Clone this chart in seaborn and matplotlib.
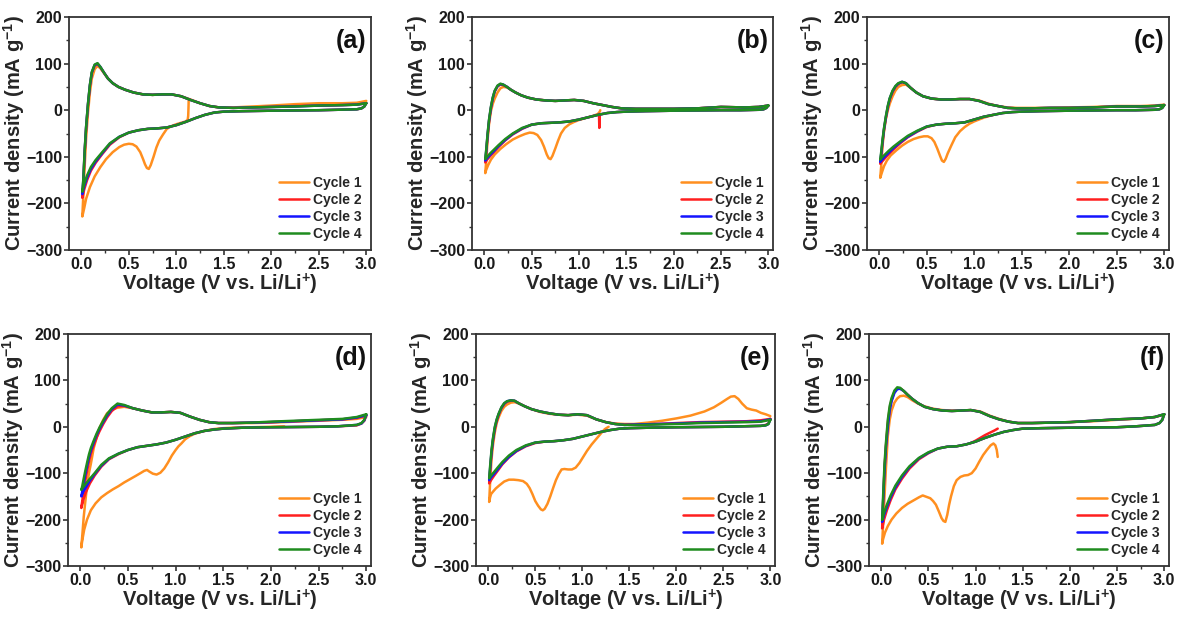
import matplotlib
matplotlib.use("Agg")
import matplotlib.pyplot as plt
import seaborn as sns
import pandas as pd
from matplotlib.ticker import MultipleLocator

# ---------------- shared voltage grids (V vs Li/Li+) ----------------
CAT_V = [3.00, 2.98, 2.95, 2.90, 2.70, 2.50, 2.00, 1.70, 1.50,
         1.40, 1.30, 1.20, 1.10, 1.00, 0.90, 0.80, 0.70, 0.60,
         0.50, 0.40, 0.30, 0.22, 0.15, 0.10, 0.06, 0.03, 0.01]
AN_V = [0.01, 0.02, 0.035, 0.05, 0.07, 0.09, 0.11, 0.14, 0.17, 0.20, 0.24,
        0.28, 0.33, 0.39, 0.46, 0.55, 0.65, 0.75, 0.85, 0.95, 1.05, 1.15,
        1.25, 1.35, 1.45, 1.60, 1.80, 2.00, 2.25, 2.50, 2.75, 2.90, 3.00]
AN1_V = AN_V[1:]

CYCLES = ["Cycle 1", "Cycle 2", "Cycle 3", "Cycle 4"]
COLORS = ["#FF8F1F", "#FF1F1F", "#1414FF", "#1F8C1F"]
PANELS = ["(a)", "(b)", "(c)", "(d)", "(e)", "(f)"]

# ---------------- panel (a) ----------------
a_c1_cat_v = [1.13, 1.128, 1.125, 1.12, 1.10, 1.05, 1.00, 0.95, 0.90, 0.86,
              0.82, 0.79, 0.76, 0.73, 0.71, 0.69, 0.67, 0.65, 0.62, 0.58,
              0.54, 0.50, 0.45, 0.40, 0.33, 0.26, 0.20, 0.14, 0.09, 0.05,
              0.03, 0.01]
a_c1_cat_i = [20, 5, -12, -20, -24, -27, -30, -34, -40, -52,
              -65, -80, -100, -118, -126, -124, -116, -105, -90, -78,
              -73, -72, -74, -79, -90, -105, -122, -142, -165, -190,
              -210, -228]
a_c1_an_i = [-185, -120, -60, -5, 38, 68, 88, 95, 90, 79,
             68, 58, 50, 44, 38, 34, 33, 34, 34, 30, 23,
             15, 9, 6, 6, 8, 10, 13, 15, 15, 16, 20]
a_cat_c2 = [15, 8, 4, 2, 1, 0, -1, -2, -3,
            -5, -10, -17, -25, -32, -37, -39, -40, -43,
            -48, -58, -74, -94, -113, -130, -150, -170, -188]
a_cat_c3 = [15, 8, 4, 2, 1, 0, -1, -2, -3,
            -5, -10, -17, -25, -32, -37, -39, -40, -43,
            -48, -57, -72, -92, -110, -126, -145, -163, -180]
a_cat_c4 = [15, 8, 4, 2, 1, 0, -1, -2, -3,
            -5, -10, -17, -25, -32, -37, -39, -40, -43,
            -48, -57, -71, -90, -107, -122, -140, -158, -175]
a_an_c2 = [-188, -158, -90, -38, 12, 52, 80, 96, 99, 92, 80,
           68, 58, 50, 44, 38, 34, 33, 34, 34, 30, 22,
           15, 9, 6, 5, 6, 7, 9, 10, 11, 12, 15]
a_an_c3 = [-180, -152, -87, -36, 14, 54, 81, 97, 100, 93, 80,
           68, 58, 50, 44, 38, 34, 33, 34, 34, 30, 22,
           15, 9, 6, 5, 6, 7, 8, 10, 11, 12, 15]
a_an_c4 = [-175, -150, -85, -35, 15, 55, 82, 98, 101, 93, 80,
           68, 58, 50, 44, 38, 34, 33, 34, 34, 30, 22,
           15, 9, 6, 5, 6, 7, 8, 10, 11, 12, 15]

# ---------------- panel (b) ----------------
b_c1_cat_v = [1.225, 1.22, 1.20, 1.15, 1.10, 1.05, 1.00, 0.95, 0.90, 0.85,
              0.81, 0.78, 0.75, 0.72, 0.70, 0.68, 0.66, 0.63, 0.60, 0.56,
              0.52, 0.48, 0.43, 0.37, 0.30, 0.23, 0.17, 0.11, 0.07, 0.04,
              0.02, 0.01]
b_c1_cat_i = [0, -3, -8, -12, -15, -18, -21, -25, -30, -38,
              -50, -65, -82, -98, -105, -103, -95, -78, -64, -53,
              -49, -48, -51, -56, -63, -73, -83, -95, -106, -118,
              -128, -135]
b_c1_an_i = [-110, -63, -30, -2, 14, 25, 38, 47, 50, 49,
             44, 38, 32, 27, 23, 21, 20, 21, 22, 20, 15,
             11, 7, 4, 3, 3, 3, 4, 7, 6, 7, 10]
b_cat_c2 = [10, 5, 2, 1, 0, 0, -1, -2, -3,
            -4, -6, -10, -15, -20, -24, -26, -27, -28,
            -31, -40, -52, -65, -79, -90, -99, -106, -112]
b_cat_c3 = [10, 5, 2, 1, 0, 0, -1, -2, -3,
            -4, -6, -10, -15, -20, -24, -26, -27, -28,
            -31, -39, -51, -64, -77, -88, -96, -103, -108]
b_cat_c4 = [10, 5, 2, 1, 0, 0, -1, -2, -3,
            -4, -6, -10, -15, -20, -24, -26, -27, -28,
            -31, -38, -50, -62, -75, -85, -93, -100, -105]
b_an_c2 = [-112, -92, -55, -24, 4, 25, 40, 51, 55, 54, 50,
           44, 38, 32, 27, 23, 21, 20, 21, 22, 20, 15,
           11, 7, 4, 3, 3, 3, 4, 7, 6, 7, 10]
b_an_c3 = [-108, -88, -52, -22, 6, 27, 41, 52, 56, 55, 50,
           44, 38, 32, 27, 23, 21, 20, 21, 22, 20, 15,
           11, 7, 4, 3, 3, 3, 4, 7, 6, 7, 10]
b_an_c4 = [-105, -85, -50, -20, 8, 28, 42, 53, 57, 55, 50,
           44, 38, 32, 27, 23, 21, 20, 21, 22, 20, 15,
           11, 7, 4, 3, 3, 3, 4, 7, 6, 7, 10]
b_c2_spike_v = [1.218, 1.215, 1.212]
b_c2_spike_i = [-8, -38, -11]

# ---------------- panel (c) ----------------
c_c1_cat_v = [1.20, 1.10, 1.00, 0.95, 0.90, 0.85, 0.80, 0.76, 0.72, 0.70,
              0.68, 0.66, 0.64, 0.61, 0.58, 0.55, 0.51, 0.47, 0.42, 0.36,
              0.30, 0.24, 0.18, 0.12, 0.08, 0.05, 0.03, 0.01]
c_c1_cat_i = [-10, -16, -24, -29, -36, -45, -58, -75, -93, -104,
              -111, -108, -98, -82, -68, -60, -56, -56, -58, -62,
              -68, -76, -86, -97, -108, -120, -132, -145]
c_c1_an_i = [-120, -75, -45, -18, 0, 14, 30, 42, 50, 54,
             55, 48, 38, 30, 25, 23, 23, 24, 24, 21, 14,
             9, 6, 5, 5, 5, 6, 7, 9, 9, 10, 12]
c_cat_c2 = [11, 5, 2, 1, 0, 0, -1, -2, -3,
            -4, -6, -10, -14, -20, -26, -28, -29, -31,
            -36, -46, -58, -71, -84, -94, -103, -110, -115]
c_cat_c3 = [11, 5, 2, 1, 0, 0, -1, -2, -3,
            -4, -6, -10, -14, -20, -26, -28, -29, -31,
            -35, -45, -57, -69, -81, -91, -99, -106, -111]
c_cat_c4 = [11, 5, 2, 1, 0, 0, -1, -2, -3,
            -4, -6, -10, -14, -20, -26, -28, -29, -31,
            -35, -44, -55, -67, -78, -87, -95, -101, -106]
c_an_c2 = [-115, -98, -68, -42, -16, 6, 23, 39, 50, 56, 60,
           58, 48, 38, 30, 25, 23, 23, 24, 24, 20, 13,
           9, 5, 4, 4, 5, 5, 6, 8, 8, 9, 11]
c_an_c3 = [-111, -94, -65, -40, -14, 8, 25, 41, 51, 57, 61,
           58, 48, 38, 30, 25, 23, 23, 24, 24, 20, 13,
           9, 5, 4, 4, 5, 5, 6, 8, 8, 9, 11]
c_an_c4 = [-106, -90, -62, -38, -12, 10, 26, 42, 52, 58, 61,
           58, 48, 38, 30, 25, 23, 23, 24, 24, 20, 13,
           9, 5, 4, 4, 5, 5, 6, 8, 8, 9, 11]

# ---------------- panel (d) ----------------
d_c1_cat_v = [2.14, 2.00, 1.80, 1.60, 1.50, 1.40, 1.30, 1.20, 1.15, 1.10,
              1.06, 1.03, 1.00, 0.96, 0.92, 0.88, 0.84, 0.80, 0.76, 0.72,
              0.70, 0.67, 0.63, 0.58, 0.52, 0.46, 0.40, 0.34, 0.28, 0.22,
              0.16, 0.11, 0.07, 0.04, 0.02, 0.01]
d_c1_cat_i = [1, 0, -1, -2, -3, -5, -9, -15, -20, -27,
              -36, -42, -50, -62, -77, -90, -99, -103, -101, -96,
              -93, -95, -100, -106, -113, -120, -128, -135, -143, -152,
              -165, -180, -200, -222, -245, -260]
d_c1_an_i = [-235, -195, -165, -128, -100, -80, -46, -24, -3, 15,
             29, 37, 41, 43, 40, 35, 31, 31, 32, 30, 22,
             15, 10, 8, 8, 8, 9, 11, 13, 15, 17, 21]
d_cat_c2 = [24, 13, 7, 3, 1, 0, -1, -2, -4,
            -6, -9, -14, -21, -28, -34, -38, -41, -44,
            -50, -59, -70, -86, -105, -122, -140, -158, -175]
d_cat_c3 = [25, 14, 7, 4, 1, 0, -1, -2, -4,
            -6, -9, -14, -21, -28, -34, -38, -41, -44,
            -50, -58, -69, -84, -102, -116, -130, -140, -150]
d_cat_c4 = [27, 15, 8, 4, 1, 0, -1, -2, -4,
            -6, -9, -14, -21, -28, -34, -38, -41, -44,
            -50, -58, -68, -82, -100, -112, -122, -130, -136]
d_an_c2 = [-175, -160, -138, -118, -96, -75, -58, -40, -24, -10, 6,
           20, 34, 44, 45, 40, 35, 31, 31, 32, 30, 22,
           15, 10, 8, 8, 9, 10, 12, 14, 16, 19, 24]
d_an_c3 = [-150, -140, -122, -105, -85, -66, -51, -34, -18, -5, 10,
           24, 38, 48, 46, 40, 35, 31, 31, 32, 30, 22,
           15, 10, 8, 8, 9, 10, 12, 14, 16, 20, 25]
d_an_c4 = [-136, -128, -112, -97, -78, -60, -46, -30, -15, -2, 13,
           27, 40, 50, 47, 40, 35, 31, 31, 32, 30, 22,
           15, 10, 8, 8, 9, 11, 13, 15, 17, 21, 27]

# ---------------- panel (e) ----------------
e_c1_cat_v = [1.28, 1.24, 1.20, 1.15, 1.10, 1.05, 1.01, 0.97, 0.93, 0.89,
              0.85, 0.81, 0.78, 0.75, 0.72, 0.69, 0.66, 0.63, 0.60, 0.58,
              0.56, 0.53, 0.50, 0.47, 0.44, 0.41, 0.37, 0.32, 0.27, 0.22,
              0.17, 0.12, 0.08, 0.05, 0.03, 0.02, 0.01]
e_c1_cat_i = [0, -5, -14, -26, -38, -52, -65, -78, -88, -92,
              -92, -91, -92, -102, -115, -132, -150, -166, -177, -180,
              -178, -170, -160, -145, -132, -123, -117, -115, -114, -114,
              -118, -126, -133, -140, -145, -152, -162]
e_c1_an_v = [0.02, 0.035, 0.05, 0.07, 0.09, 0.11, 0.14, 0.17, 0.20, 0.24,
             0.28, 0.33, 0.39, 0.46, 0.55, 0.65, 0.75, 0.85, 0.95, 1.05,
             1.15, 1.25, 1.35, 1.45, 1.55, 1.70, 1.85, 2.00, 2.15, 2.30,
             2.40, 2.48, 2.54, 2.58, 2.62, 2.66, 2.70, 2.75, 2.80, 2.85,
             2.90, 2.95, 3.00]
e_c1_an_i = [-120, -70, -40, -12, 8, 20, 34, 43, 48, 52,
             53, 50, 44, 38, 32, 28, 26, 25, 26, 24,
             16, 10, 7, 6, 6, 9, 13, 18, 24, 33,
             42, 52, 60, 65, 66, 60, 50, 40, 37, 35,
             30, 27, 23]
e_cat_c2 = [17, 7, 4, 2, 1, 0, -1, -2, -3,
            -4, -7, -11, -16, -21, -26, -29, -31, -32,
            -35, -42, -53, -66, -81, -95, -106, -115, -122]
e_cat_c3 = [16, 6, 3, 2, 1, 0, -1, -2, -3,
            -4, -7, -11, -16, -21, -26, -29, -31, -32,
            -34, -41, -52, -65, -79, -92, -102, -109, -115]
e_cat_c4 = [15, 6, 3, 2, 1, 0, -1, -2, -3,
            -4, -7, -11, -16, -21, -26, -29, -31, -32,
            -34, -40, -50, -62, -76, -88, -98, -105, -111]
e_an_c2 = [-122, -96, -58, -31, -5, 12, 25, 40, 49, 54, 56,
           56, 50, 44, 38, 33, 29, 26, 25, 27, 25, 16,
           10, 6, 5, 5, 6, 8, 10, 11, 12, 14, 17]
e_an_c3 = [-115, -90, -54, -28, -2, 15, 27, 41, 50, 55, 57,
           56, 50, 44, 38, 33, 29, 26, 25, 27, 25, 16,
           10, 6, 4, 5, 6, 7, 9, 10, 11, 12, 16]
e_an_c4 = [-111, -85, -50, -25, 0, 16, 28, 42, 51, 55, 57,
           56, 50, 44, 38, 33, 29, 26, 25, 27, 25, 16,
           10, 6, 4, 4, 5, 6, 8, 9, 10, 11, 15]

# ---------------- panel (f) ----------------
f_c1_cat_v = [1.235, 1.225, 1.21, 1.19, 1.16, 1.12, 1.08, 1.04, 1.00, 0.96,
              0.92, 0.88, 0.84, 0.80, 0.77, 0.74, 0.72, 0.70, 0.68, 0.66,
              0.64, 0.61, 0.58, 0.55, 0.52, 0.48, 0.44, 0.40, 0.34, 0.28,
              0.22, 0.16, 0.11, 0.07, 0.04, 0.02, 0.01]
f_c1_cat_i = [-65, -50, -40, -36, -40, -50, -61, -75, -90, -100,
              -104, -105, -108, -115, -128, -150, -168, -190, -205, -203,
              -197, -182, -168, -160, -154, -151, -148, -152, -159, -166,
              -175, -187, -200, -214, -228, -242, -252]
f_c1_an_i = [-210, -150, -90, -20, 15, 35, 52, 61, 66, 67,
             64, 57, 50, 44, 39, 36, 35, 35, 36, 33, 24,
             17, 11, 8, 8, 9, 10, 12, 15, 18, 21, 26]
f_cat_c2 = [27, 15, 8, 4, 1, -1, -2, -3, -4,
            -7, -11, -17, -24, -32, -38, -42, -43, -47,
            -57, -70, -90, -112, -135, -158, -180, -200, -219]
f_cat_c3 = [27, 15, 8, 4, 1, -1, -2, -3, -4,
            -7, -11, -17, -24, -32, -38, -42, -43, -47,
            -56, -68, -87, -108, -131, -152, -173, -190, -205]
f_cat_c4 = [27, 15, 8, 4, 1, -1, -2, -3, -4,
            -7, -11, -17, -24, -32, -38, -42, -43, -47,
            -55, -67, -85, -105, -127, -148, -168, -185, -201]
f_an_c2 = [-219, -165, -90, -42, 8, 40, 58, 75, 83, 83, 77,
           69, 60, 51, 43, 38, 35, 34, 35, 36, 32, 23,
           16, 11, 8, 8, 9, 10, 13, 16, 18, 21, 27]
f_an_c3 = [-205, -160, -95, -45, 0, 35, 55, 73, 81, 82, 77,
           69, 60, 51, 43, 38, 35, 34, 35, 36, 32, 23,
           16, 11, 8, 8, 9, 10, 13, 16, 18, 21, 27]
f_an_c4 = [-201, -150, -80, -35, 15, 45, 62, 78, 85, 84, 77,
           69, 60, 51, 43, 38, 35, 34, 35, 36, 32, 23,
           16, 11, 8, 8, 9, 10, 13, 16, 18, 21, 27]
f_c2_tail_v = [1.235, 1.20, 1.15, 1.10, 1.05, 1.00, 0.95]
f_c2_tail_i = [-4, -8, -13, -18, -24, -30, -35]

# ---------------- style ----------------
sns.set_theme(style="ticks")
plt.rcParams.update({
    "font.family": ["Liberation Sans", "DejaVu Sans"],
    "font.weight": "bold",
    "axes.labelweight": "bold",
    "mathtext.fontset": "custom",
    "mathtext.rm": "Liberation Sans:bold",
    "mathtext.bf": "Liberation Sans:bold",
    "mathtext.it": "Liberation Sans:bold:italic",
    "axes.edgecolor": "#333333",
    "axes.linewidth": 1.3,
    "xtick.direction": "out",
    "ytick.direction": "out",
    "xtick.color": "#333333",
    "ytick.color": "#333333",
    "xtick.labelcolor": "#1a1a1a",
    "ytick.labelcolor": "#1a1a1a",
})

fig = plt.figure(figsize=(11.8, 6.17), dpi=100)
positions = [
    [0.0585, 0.5948, 0.2559, 0.3776],
    [0.4000, 0.5948, 0.2551, 0.3776],
    [0.7347, 0.5948, 0.2559, 0.3776],
    [0.0576, 0.0827, 0.2568, 0.3760],
    [0.4034, 0.0827, 0.2534, 0.3760],
    [0.7364, 0.0827, 0.2542, 0.3760],
]

panel_data = {
    "(a)": (a_c1_cat_v, a_c1_cat_i, AN1_V, a_c1_an_i,
            [a_cat_c2, a_cat_c3, a_cat_c4], [a_an_c2, a_an_c3, a_an_c4]),
    "(b)": (b_c1_cat_v, b_c1_cat_i, AN1_V, b_c1_an_i,
            [b_cat_c2, b_cat_c3, b_cat_c4], [b_an_c2, b_an_c3, b_an_c4]),
    "(c)": (c_c1_cat_v, c_c1_cat_i, AN1_V, c_c1_an_i,
            [c_cat_c2, c_cat_c3, c_cat_c4], [c_an_c2, c_an_c3, c_an_c4]),
    "(d)": (d_c1_cat_v, d_c1_cat_i, AN1_V, d_c1_an_i,
            [d_cat_c2, d_cat_c3, d_cat_c4], [d_an_c2, d_an_c3, d_an_c4]),
    "(e)": (e_c1_cat_v, e_c1_cat_i, e_c1_an_v, e_c1_an_i,
            [e_cat_c2, e_cat_c3, e_cat_c4], [e_an_c2, e_an_c3, e_an_c4]),
    "(f)": (f_c1_cat_v, f_c1_cat_i, AN1_V, f_c1_an_i,
            [f_cat_c2, f_cat_c3, f_cat_c4], [f_an_c2, f_an_c3, f_an_c4]),
}
extras = {"(b)": (b_c2_spike_v, b_c2_spike_i), "(f)": (f_c2_tail_v, f_c2_tail_i)}

LW = 1.8


def draw(ax, v, i, color, label=None):
    df = pd.DataFrame({"V": v, "I": i})
    sns.lineplot(data=df, x="V", y="I", sort=False, estimator=None,
                 color=color, lw=LW, label=label, ax=ax, legend=False)


for name, pos in zip(PANELS, positions):
    ax = fig.add_axes(pos)
    c1v, c1i, c1av, c1ai, cats, ans = panel_data[name]
    draw(ax, list(c1v) + list(c1av), list(c1i) + list(c1ai), COLORS[0], CYCLES[0])
    for k in range(3):
        draw(ax, CAT_V + AN_V[1:], cats[k] + ans[k][1:], COLORS[k + 1], CYCLES[k + 1])
        if k == 0 and name in extras:
            ev, ei = extras[name]
            draw(ax, ev, ei, COLORS[1])
    ax.set_xlim(-0.13, 3.05)
    ax.set_ylim(-300, 200)
    ax.xaxis.set_major_locator(MultipleLocator(0.5))
    ax.xaxis.set_minor_locator(MultipleLocator(0.25))
    ax.yaxis.set_major_locator(MultipleLocator(100))
    ax.yaxis.set_minor_locator(MultipleLocator(50))
    ax.set_xticks([0, 0.5, 1.0, 1.5, 2.0, 2.5, 3.0])
    ax.set_xticklabels(["0.0", "0.5", "1.0", "1.5", "2.0", "2.5", "3.0"])
    ax.tick_params(axis="both", which="major", length=3.5, width=1.2,
                   labelsize=11.5, pad=1.5)
    ax.tick_params(axis="both", which="minor", length=2.5, width=1.0)
    for lab in ax.get_xticklabels() + ax.get_yticklabels():
        lab.set_fontweight("bold")
    for s in ax.spines.values():
        s.set_visible(True)
        s.set_linewidth(1.3)
    ax.set_xlabel("Voltage (V vs. Li/Li$^{+}$)", fontsize=14.5,
                  fontweight="bold", labelpad=0)
    ax.set_ylabel("Current density (mA g$^{-1}$)", fontsize=14.5,
                  fontweight="bold", labelpad=-1)
    ax.text(0.985, 0.95, name, transform=ax.transAxes, ha="right", va="top",
            fontsize=18, fontweight="bold", color="#111111")
    handles, labels = ax.get_legend_handles_labels()
    ax.legend(handles, labels, loc="lower right", frameon=False,
              prop={"weight": "bold", "size": 10}, handlelength=2.2,
              handletextpad=0.3, labelspacing=0.22, borderaxespad=0.25)

fig.savefig("out.png", dpi=100)
